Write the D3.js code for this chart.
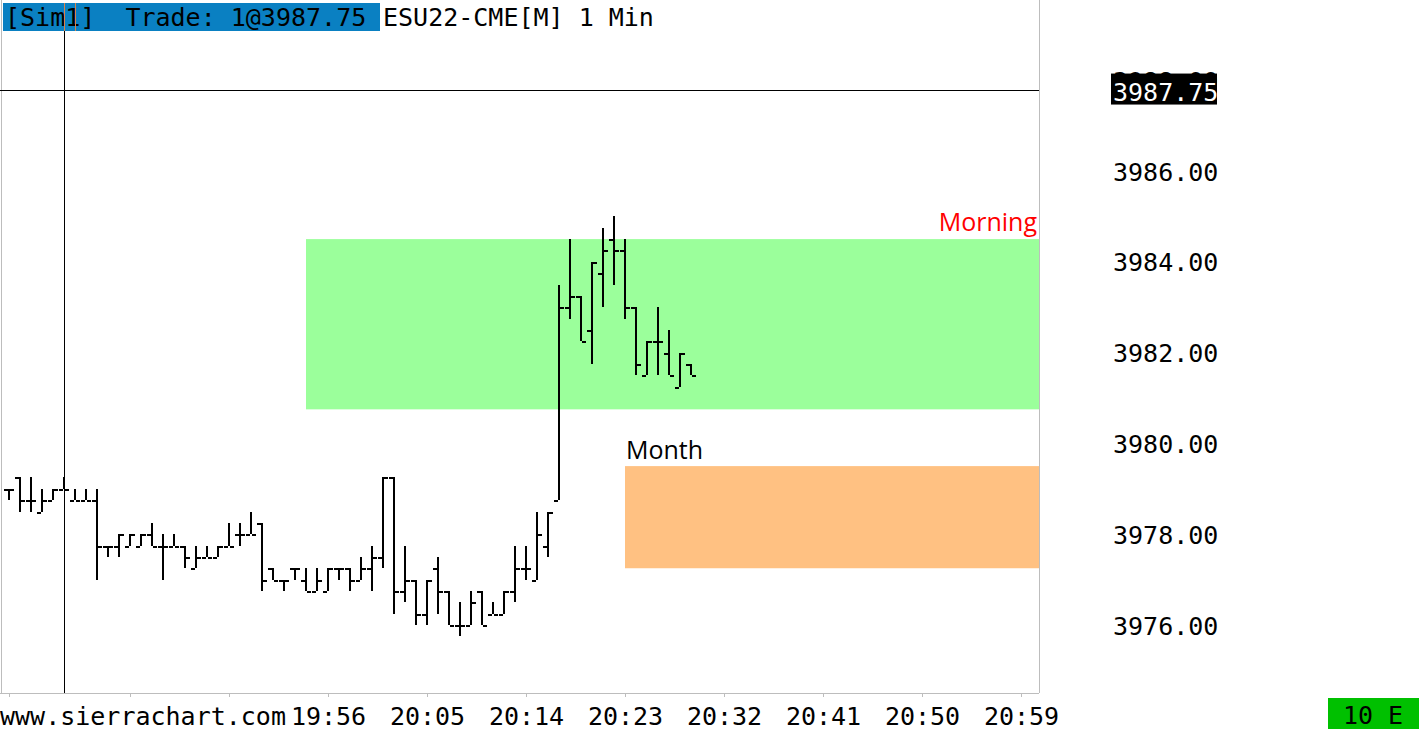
<!DOCTYPE html>
<html>
<head>
<meta charset="utf-8">
<script src="https://cdn.jsdelivr.net/npm/d3@7"></script>
<style>
  body { margin: 0; background: #fff; }
  text { font-family: "DejaVu Sans Mono", monospace; }
</style>
</head>
<body>
<script>
// 1 minute ES bars starting 19:27
var startTime = "19:27";
var opens  = [3979.00,3979.25,3978.75,3978.50,3978.75,3979.00,3978.75,3978.75,3978.75,3977.75,
              3977.75,3977.75,3977.75,3978.00,3977.75,3977.75,3977.75,3977.25,3977.50,3977.50,
              3977.75,3978.00,3978.00,3978.25,3977.25,3977.00,3977.25,3977.00,3976.75,3976.75,
              3977.25,3977.25,3977.00,3977.25,3977.50,3979.25,3976.75,3977.00,3976.25,3977.25,
              3976.75,3976.00,3976.00,3976.75,3976.25,3976.25,3976.75,3977.25,3977.00,3977.75,
              3978.75,3983.00,3983.25,3982.50,3983.75,3984.50,3984.25,3983.00,3981.50,3982.25,
              3982.00,3981.25,3981.75];
var highs  = [3979.00,3979.25,3979.25,3979.00,3979.00,3979.25,3979.00,3979.00,3979.00,3977.75,
              3978.00,3978.00,3978.00,3978.25,3978.00,3978.00,3977.75,3977.75,3977.75,3977.75,
              3978.25,3978.25,3978.50,3978.25,3977.25,3977.00,3977.25,3977.25,3977.25,3977.25,
              3977.25,3977.25,3977.50,3977.75,3979.25,3979.25,3977.75,3977.00,3977.00,3977.50,
              3976.75,3976.50,3976.75,3976.75,3976.50,3976.75,3977.75,3977.75,3978.50,3978.50,
              3983.50,3984.50,3983.25,3984.00,3984.75,3985.00,3984.50,3983.00,3982.25,3983.00,
              3982.50,3982.00,3981.75];
var lows   = [3978.75,3978.50,3978.50,3978.50,3978.75,3979.00,3978.75,3978.75,3977.00,3977.50,
              3977.50,3977.75,3977.75,3977.75,3977.00,3977.75,3977.25,3977.25,3977.50,3977.50,
              3977.75,3977.75,3978.00,3976.75,3977.00,3976.75,3977.00,3976.75,3976.75,3976.75,
              3977.00,3976.75,3977.00,3976.75,3977.25,3976.25,3976.50,3976.00,3976.00,3976.25,
              3976.00,3975.75,3976.00,3976.00,3976.25,3976.25,3976.50,3977.00,3977.00,3977.50,
              3978.75,3982.75,3982.25,3981.75,3983.00,3983.50,3982.75,3981.50,3981.50,3981.50,
              3981.50,3981.25,3981.50];
var closes = [3979.00,3978.75,3978.75,3978.75,3979.00,3979.00,3978.75,3978.75,3977.75,3977.75,
              3978.00,3978.00,3978.00,3977.75,3977.75,3977.75,3977.50,3977.50,3977.50,3977.75,
              3977.75,3978.00,3978.00,3977.00,3977.00,3977.00,3977.25,3976.75,3977.00,3977.25,
              3977.25,3977.00,3977.25,3977.50,3979.25,3976.75,3977.00,3976.25,3977.00,3976.75,
              3976.00,3976.00,3976.50,3976.00,3976.25,3976.75,3977.25,3977.25,3978.00,3978.50,
              3983.00,3983.25,3982.25,3984.00,3984.25,3984.25,3983.00,3981.75,3982.25,3982.25,
              3981.50,3982.00,3981.50];

var priceTicks = [3976, 3978, 3980, 3982, 3984, 3986, 3988];
var timeTicks = ["19:27","19:38","19:47","19:56","20:05","20:14","20:23","20:32","20:41","20:50","20:59"];
var labeledTimes = ["19:56","20:05","20:14","20:23","20:32","20:41","20:50","20:59"];

// zones: [label, fromTime, high, low, colour, label colour, label side]
var zoneNames  = ["Morning", "Month"];
var zoneStart  = ["19:54", "20:23"];
var zoneHigh   = [3984.50, 3979.50];
var zoneLow    = [3980.75, 3977.25];

var lastPrice = 3987.75;
var crossTime = "19:32";

var parse = d3.timeParse("%H:%M");
var fmt = d3.timeFormat("%H:%M");
var t0 = parse(startTime);

var bars = opens.map(function(o, i) {
    return { t: d3.timeMinute.offset(t0, i), o: o, h: highs[i], l: lows[i], c: closes[i] };
});

var W = 1420, H = 731;
var plotRight = 1039, plotBottom = 693;

var svg = d3.select("body").append("svg")
    .attr("width", W)
    .attr("height", H);

var x = d3.scaleTime()
    .domain([parse("19:27"), parse("20:59")])
    .range([9, 1021]);

var y = d3.scaleLinear()
    .domain([3976, 3986])
    .range([625, 171]);

// zones
var zoneColors = ["#9bff9b", "#ffc182"];
svg.selectAll("rect.zone")
    .data(zoneNames)
    .enter()
    .append("rect")
    .attr("class", "zone")
    .attr("x", function(d, i) { return x(parse(zoneStart[i])); })
    .attr("y", function(d, i) { return y(zoneHigh[i]); })
    .attr("width", function(d, i) { return plotRight - x(parse(zoneStart[i])); })
    .attr("height", function(d, i) { return y(zoneLow[i]) - y(zoneHigh[i]); })
    .style("fill", function(d, i) { return zoneColors[i]; });

svg.append("text")
    .attr("x", plotRight - 2)
    .attr("y", y(zoneHigh[0]) - 8)
    .attr("text-anchor", "end")
    .style("font-family", "'Open Sans', sans-serif")
    .style("font-size", "25px")
    .style("fill", "#ff0000")
    .text(zoneNames[0]);

svg.append("text")
    .attr("x", x(parse(zoneStart[1])) + 1)
    .attr("y", y(zoneHigh[1]) - 7)
    .attr("text-anchor", "start")
    .style("font-family", "'Open Sans', sans-serif")
    .style("font-size", "25px")
    .style("fill", "#000")
    .text(zoneNames[1]);

// frame
svg.append("line")
    .attr("x1", 1.5).attr("x2", 1.5).attr("y1", 0).attr("y2", plotBottom)
    .style("stroke", "#bdbdbd");
svg.append("line")
    .attr("x1", plotRight + 0.5).attr("x2", plotRight + 0.5).attr("y1", 0).attr("y2", plotBottom)
    .style("stroke", "#bdbdbd");

// x axis
var xAxis = svg.append("g")
    .attr("transform", "translate(0," + plotBottom + ")")
    .call(d3.axisBottom(x)
        .tickValues(timeTicks.map(parse))
        .tickSize(4)
        .tickSizeOuter(0)
        .tickFormat(function(d) { return labeledTimes.indexOf(fmt(d)) >= 0 ? fmt(d) : ""; }));
xAxis.select(".domain")
    .attr("d", "M0,0.5H" + plotRight)
    .style("stroke", "#bdbdbd");
xAxis.selectAll(".tick line").style("stroke", "#bdbdbd");
xAxis.selectAll(".tick text")
    .attr("y", 32)
    .attr("dy", 0)
    .style("font-family", "'DejaVu Sans Mono', monospace")
    .style("font-size", "25px")
    .style("fill", "#000");

svg.append("text")
    .attr("x", 0)
    .attr("y", 725)
    .style("font-size", "25px")
    .text("www.sierrachart.com");

// y axis
var yAxis = svg.append("g")
    .attr("transform", "translate(1113,0)")
    .call(d3.axisRight(y)
        .tickValues(priceTicks)
        .tickSize(0)
        .tickPadding(0)
        .tickFormat(d3.format(".2f")));
yAxis.select(".domain").remove();
yAxis.selectAll(".tick text")
    .attr("dy", "0.36em")
    .style("font-family", "'DejaVu Sans Mono', monospace")
    .style("font-size", "25px")
    .style("fill", "#000");

// last price marker
svg.append("rect")
    .attr("x", 1111)
    .attr("y", y(lastPrice) - 18)
    .attr("width", 106)
    .attr("height", 31)
    .style("fill", "#000");
svg.append("text")
    .attr("x", 1113)
    .attr("y", y(lastPrice) + 9)
    .style("font-size", "25px")
    .style("fill", "#fff")
    .text(d3.format(".2f")(lastPrice));

// OHLC bars
var g = svg.append("g").attr("shape-rendering", "crispEdges");
var bar = g.selectAll("g.bar")
    .data(bars)
    .enter()
    .append("g")
    .attr("class", "bar");

bar.append("rect")
    .attr("x", function(d) { return Math.round(x(d.t)) - 1; })
    .attr("y", function(d) { return y(d.h); })
    .attr("width", 2)
    .attr("height", function(d) { return Math.max(1, y(d.l) - y(d.h)); })
    .style("fill", "#000");

bar.append("rect")
    .attr("x", function(d) { return Math.round(x(d.t)) - 5; })
    .attr("y", function(d) { return Math.round(y(d.o)); })
    .attr("width", 4)
    .attr("height", 1.5)
    .style("fill", "#000");

bar.append("rect")
    .attr("x", function(d) { return Math.round(x(d.t)) + 1; })
    .attr("y", function(d) { return Math.round(y(d.c)); })
    .attr("width", 4)
    .attr("height", 1.5)
    .style("fill", "#000");

// header
svg.append("rect")
    .attr("x", 3).attr("y", 3)
    .attr("width", 377).attr("height", 28)
    .style("fill", "#0a80c2");

svg.append("text")
    .attr("x", 5)
    .attr("y", 26)
    .attr("xml:space", "preserve")
    .style("white-space", "pre")
    .style("font-size", "25px")
    .style("fill", "#000")
    .text("[Sim1]  Trade: 1@3987.75");

svg.append("text")
    .attr("x", 383)
    .attr("y", 26)
    .style("font-size", "25px")
    .style("fill", "#000")
    .text("ESU22-CME[M] 1 Min");

// crosshair
var cx = Math.round(x(parse(crossTime))) + 0.5;
svg.append("line")
    .attr("x1", cx).attr("x2", cx).attr("y1", 31).attr("y2", plotBottom)
    .style("stroke", "#000");
svg.append("line")
    .attr("x1", cx).attr("x2", cx).attr("y1", 3).attr("y2", 31)
    .style("stroke", "#d9834a");
svg.append("line")
    .attr("x1", cx + 11).attr("x2", cx + 11).attr("y1", 3).attr("y2", 31)
    .style("stroke", "#d9834a");
svg.append("line")
    .attr("x1", 0).attr("x2", plotRight).attr("y1", 90.5).attr("y2", 90.5)
    .style("stroke", "#000");

// bottom right status
svg.append("rect")
    .attr("x", 1328).attr("y", 698)
    .attr("width", 91).attr("height", 31)
    .style("fill", "#00c000");
svg.append("text")
    .attr("x", 1373)
    .attr("y", 724)
    .attr("text-anchor", "middle")
    .attr("xml:space", "preserve")
    .style("font-size", "25px")
    .style("fill", "#000")
    .text("10 E");
</script>
</body>
</html>
